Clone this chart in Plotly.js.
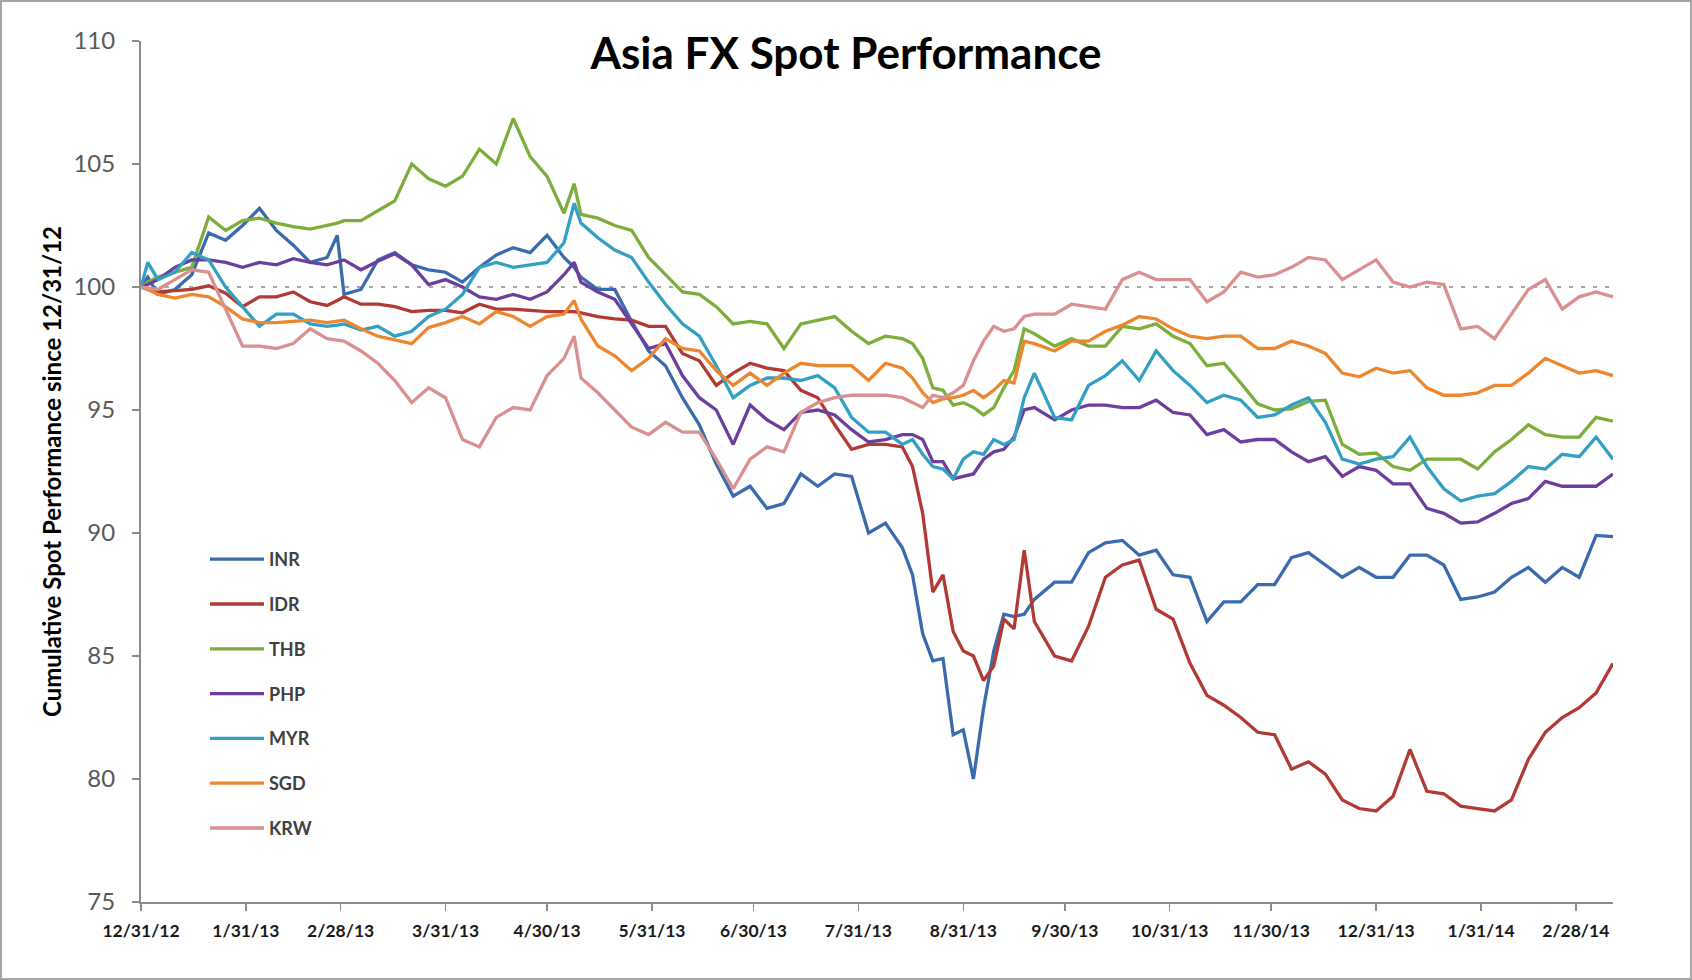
<!DOCTYPE html>
<html>
<head>
<meta charset="utf-8">
<script src="https://cdn.plot.ly/plotly-3.0.1.min.js"></script>
<style>
html,body{margin:0;padding:0;background:#fff;}
#wrap{position:relative;width:1692px;height:980px;overflow:hidden;}
#chart{position:absolute;left:0;top:0;width:1692px;height:980px;}
#frame{position:absolute;left:0;top:0;width:1692px;height:980px;box-sizing:border-box;border:2px solid #a6a6a6;pointer-events:none;}
</style>
</head>
<body>
<div id="wrap"><div id="chart"></div><div id="frame"></div></div>
<script>
// Observation dates (shared by all series)
const dates = ['2012-12-31','2013-01-02','2013-01-05','2013-01-10','2013-01-15','2013-01-20','2013-01-25','2013-01-30','2013-02-04','2013-02-09',
'2013-02-14','2013-02-19','2013-02-24','2013-02-27','2013-03-01','2013-03-06','2013-03-11','2013-03-16','2013-03-21','2013-03-26','2013-03-31',
'2013-04-05','2013-04-10','2013-04-15','2013-04-20','2013-04-25','2013-04-30','2013-05-05','2013-05-08','2013-05-10','2013-05-15','2013-05-20',
'2013-05-25','2013-05-30','2013-06-04','2013-06-09','2013-06-14','2013-06-19','2013-06-24','2013-06-29','2013-07-04','2013-07-09',
'2013-07-14','2013-07-19','2013-07-24','2013-07-29','2013-08-03','2013-08-08','2013-08-13','2013-08-16','2013-08-19','2013-08-22',
'2013-08-25','2013-08-28','2013-08-31','2013-09-03','2013-09-06','2013-09-09','2013-09-12','2013-09-15','2013-09-18','2013-09-21',
'2013-09-27','2013-10-02','2013-10-07','2013-10-12','2013-10-17','2013-10-22','2013-10-27','2013-11-01','2013-11-06','2013-11-11',
'2013-11-16','2013-11-21','2013-11-26','2013-12-01','2013-12-06','2013-12-11','2013-12-16','2013-12-21','2013-12-26','2013-12-31',
'2014-01-05','2014-01-10','2014-01-15','2014-01-20','2014-01-25','2014-01-30','2014-02-04','2014-02-09','2014-02-14','2014-02-19',
'2014-02-24','2014-03-01','2014-03-06','2014-03-11'];

const INR = [100, 100.4, 99.7, 99.9, 100.5, 102.2, 101.9, 102.5, 103.2, 102.3,
 101.7, 101.0, 101.2, 102.1, 99.7, 99.9, 101.1, 101.4, 100.9, 100.7, 100.6,
 100.2, 100.8, 101.3, 101.6, 101.4, 102.1, 101.2, 100.8, 100.4, 99.9, 99.9,
 98.6, 97.4, 96.8, 95.5, 94.4, 92.8, 91.5, 91.9, 91.0, 91.2,
 92.4, 91.9, 92.4, 92.3, 90.0, 90.4, 89.4, 88.3, 85.9, 84.8,
 84.9, 81.8, 82.0, 80.0, 82.9, 85.2, 86.7, 86.6, 86.7, 87.3,
 88.0, 88.0, 89.2, 89.6, 89.7, 89.1, 89.3, 88.3, 88.2, 86.4,
 87.2, 87.2, 87.9, 87.9, 89.0, 89.2, 88.7, 88.2, 88.6, 88.2,
 88.2, 89.1, 89.1, 88.7, 87.3, 87.4, 87.6, 88.2, 88.6, 88.0,
 88.6, 88.2, 89.9, 89.85];

const IDR = [100, 99.9, 99.8, 99.85, 99.9, 100.05, 99.75, 99.2, 99.6, 99.6,
 99.8, 99.4, 99.25, 99.45, 99.6, 99.3, 99.3, 99.2, 99.0, 99.05, 99.05,
 98.95, 99.3, 99.1, 99.1, 99.05, 99.0, 99.0, 99.0, 98.95, 98.8, 98.7,
 98.65, 98.4, 98.4, 97.3, 97.0, 96.0, 96.5, 96.9, 96.7, 96.6,
 95.8, 95.5, 94.4, 93.4, 93.6, 93.6, 93.5, 92.7, 90.8, 87.6,
 88.3, 86.0, 85.2, 85.0, 84.0, 84.6, 86.5, 86.1, 89.3, 86.4,
 85.0, 84.8, 86.2, 88.2, 88.7, 88.9, 86.9, 86.5, 84.7, 83.4,
 83.0, 82.5, 81.9, 81.8, 80.4, 80.7, 80.2, 79.15, 78.8, 78.7,
 79.3, 81.2, 79.5, 79.4, 78.9, 78.8, 78.7, 79.15, 80.8, 81.9,
 82.5, 82.9, 83.5, 84.7];

const THB = [100, 100.2, 100.4, 100.6, 100.8, 102.85, 102.3, 102.7, 102.8, 102.6,
 102.45, 102.35, 102.5, 102.6, 102.7, 102.7, 103.1, 103.5, 105.0, 104.4, 104.1,
 104.5, 105.6, 105.0, 106.85, 105.3, 104.5, 103.0, 104.2, 102.95, 102.8, 102.5,
 102.3, 101.2, 100.5, 99.8, 99.7, 99.2, 98.5, 98.6, 98.5, 97.5,
 98.5, 98.65, 98.8, 98.2, 97.7, 98.0, 97.9, 97.7, 97.1, 95.9,
 95.8, 95.2, 95.3, 95.1, 94.8, 95.1, 95.9, 96.6, 98.3, 98.1,
 97.6, 97.9, 97.6, 97.6, 98.4, 98.3, 98.5, 98.0, 97.7, 96.8,
 96.9, 96.1, 95.25, 95.0, 95.05, 95.35, 95.4, 93.6, 93.2, 93.25,
 92.7, 92.55, 93.0, 93.0, 93.0, 92.6, 93.3, 93.8, 94.4, 94.0,
 93.9, 93.9, 94.7, 94.55];

const PHP = [100, 100.1, 100.3, 100.8, 101.1, 101.1, 101.0, 100.8, 101.0, 100.9,
 101.15, 101.0, 100.9, 101.0, 101.1, 100.7, 101.05, 101.35, 100.9, 100.1, 100.3,
 100.0, 99.6, 99.5, 99.7, 99.5, 99.8, 100.5, 101.0, 100.2, 99.8, 99.5,
 98.5, 97.5, 97.7, 96.4, 95.5, 95.0, 93.6, 95.2, 94.6, 94.2,
 94.9, 95.0, 94.8, 94.2, 93.7, 93.8, 94.0, 94.0, 93.8, 92.9,
 92.9, 92.2, 92.3, 92.4, 93.0, 93.3, 93.4, 93.9, 95.0, 95.1,
 94.6, 95.0, 95.2, 95.2, 95.1, 95.1, 95.4, 94.9, 94.8, 94.0,
 94.2, 93.7, 93.8, 93.8, 93.3, 92.9, 93.1, 92.3, 92.7, 92.55,
 92.0, 92.0, 91.0, 90.8, 90.4, 90.45, 90.8, 91.2, 91.4, 92.1,
 91.9, 91.9, 91.9, 92.4];

const MYR = [100, 101.0, 100.3, 100.6, 101.4, 101.1, 100.0, 99.2, 98.4, 98.9,
 98.9, 98.5, 98.4, 98.45, 98.5, 98.25, 98.4, 98.0, 98.2, 98.8, 99.1,
 99.7, 100.8, 101.0, 100.8, 100.9, 101.0, 101.8, 103.4, 102.6, 102.0, 101.5,
 101.2, 100.2, 99.3, 98.5, 98.0, 96.8, 95.5, 96.0, 96.3, 96.3,
 96.2, 96.4, 95.9, 94.7, 94.1, 94.1, 93.6, 93.8, 93.2, 92.7,
 92.6, 92.2, 93.0, 93.3, 93.2, 93.8, 93.6, 93.8, 95.5, 96.5,
 94.7, 94.6, 96.0, 96.4, 97.0, 96.2, 97.4, 96.6, 96.0, 95.3,
 95.6, 95.4, 94.7, 94.8, 95.2, 95.5, 94.5, 93.0, 92.8, 93.0,
 93.1, 93.9, 92.7, 91.8, 91.3, 91.5, 91.6, 92.1, 92.7, 92.6,
 93.2, 93.1, 93.9, 93.0];

const SGD = [100, 99.9, 99.7, 99.55, 99.7, 99.6, 99.2, 98.7, 98.55, 98.55,
 98.6, 98.65, 98.55, 98.6, 98.65, 98.3, 98.0, 97.85, 97.7, 98.35, 98.55,
 98.8, 98.5, 99.0, 98.8, 98.4, 98.8, 98.9, 99.45, 98.7, 97.6, 97.2,
 96.6, 97.1, 97.9, 97.5, 97.4, 96.6, 96.0, 96.5, 96.0, 96.5,
 96.9, 96.8, 96.8, 96.8, 96.2, 96.9, 96.7, 96.3, 95.7, 95.3,
 95.45, 95.5, 95.6, 95.8, 95.5, 95.8, 96.2, 96.1, 97.8, 97.7,
 97.4, 97.8, 97.8, 98.2, 98.45, 98.8, 98.7, 98.3, 98.0, 97.9,
 98.0, 98.0, 97.5, 97.5, 97.8, 97.6, 97.3, 96.5, 96.35, 96.7,
 96.5, 96.6, 95.9, 95.6, 95.6, 95.7, 96.0, 96.0, 96.5, 97.1,
 96.8, 96.5, 96.6, 96.4];

const KRW = [100, 99.95, 99.9, 100.3, 100.7, 100.6, 99.1, 97.6, 97.6, 97.5,
 97.7, 98.3, 97.9, 97.85, 97.8, 97.4, 96.9, 96.2, 95.3, 95.9, 95.5,
 93.8, 93.5, 94.7, 95.1, 95.0, 96.4, 97.1, 98.0, 96.3, 95.7, 95.0,
 94.3, 94.0, 94.5, 94.1, 94.1, 93.0, 91.8, 93.0, 93.5, 93.3,
 94.9, 95.3, 95.5, 95.6, 95.6, 95.6, 95.5, 95.3, 95.1, 95.6,
 95.5, 95.7, 96.0, 97.0, 97.8, 98.4, 98.2, 98.3, 98.8, 98.9,
 98.9, 99.3, 99.2, 99.1, 100.3, 100.6, 100.3, 100.3, 100.3, 99.4,
 99.8, 100.6, 100.4, 100.5, 100.8, 101.2, 101.1, 100.3, 100.7, 101.1,
 100.2, 100.0, 100.2, 100.1, 98.3, 98.4, 97.9, 98.9, 99.9, 100.3,
 99.1, 99.6, 99.8, 99.6];

const seriesNames = ['INR','IDR','THB','PHP','MYR','SGD','KRW'];
const seriesColors = ['#3a6bae','#b13a35','#7dae3c','#6c3f9c','#33a0c3','#ec8730','#d9908f'];
const seriesValues = [INR, IDR, THB, PHP, MYR, SGD, KRW];

// Axis ticks
const tickDates = ['2012-12-31','2013-01-31','2013-02-28','2013-03-31','2013-04-30','2013-05-31','2013-06-30',
 '2013-07-31','2013-08-31','2013-09-30','2013-10-31','2013-11-30','2013-12-31','2014-01-31','2014-02-28'];
const tickLabels = ['12/31/12','1/31/13','2/28/13','3/31/13','4/30/13','5/31/13','6/30/13',
 '7/31/13','8/31/13','9/30/13','10/31/13','11/30/13','12/31/13','1/31/14','2/28/14'];
const yTicks = [75, 80, 85, 90, 95, 100, 105, 110];
const baseline = 100;

const traces = seriesNames.map((n, i) => ({
  type: 'scatter', mode: 'lines', name: n, legendgroup: n,
  x: dates, y: seriesValues[i],
  line: {color: seriesColors[i], width: 3.3},
  hoverinfo: 'skip'
}));

const axisGray = '#8c8c8c';
const layout = {
  width: 1692, height: 980,
  margin: {l: 141, r: 79, t: 41, b: 78, pad: 0},
  paper_bgcolor: '#ffffff', plot_bgcolor: '#ffffff',
  font: {family: 'Lato, sans-serif', color: '#404040'},
  showlegend: true,
  hovermode: false,
  title: {
    text: '<b>Asia FX Spot Performance</b>',
    font: {family: 'Lato, sans-serif', size: 44, color: '#000000'},
    xref: 'container', x: 0.5, xanchor: 'center',
    yref: 'container', y: 1 - 54/980, yanchor: 'middle'
  },
  xaxis: {
    type: 'date', range: ['2012-12-31', '2014-03-11'],
    tickmode: 'array', tickvals: tickDates, ticktext: tickLabels,
    ticks: 'outside', ticklen: 7, tickwidth: 1.5, tickcolor: axisGray,
    showline: true, linecolor: axisGray, linewidth: 2,
    showgrid: false, zeroline: false,
    tickfont: {family: 'Lato, sans-serif', size: 17.5, color: '#1a1a1a', weight: 'bold'},
    ticklabelstandoff: 5, fixedrange: true
  },
  yaxis: {
    range: [75, 110], tickmode: 'array', tickvals: yTicks,
    ticks: 'outside', ticklen: 7, tickwidth: 1.5, tickcolor: axisGray,
    showline: true, linecolor: axisGray, linewidth: 2,
    showgrid: false, zeroline: false,
    tickfont: {family: 'Lato, sans-serif', size: 24, color: '#595959'},
    ticklabelstandoff: 12, fixedrange: true,
    title: {
      text: 'Cumulative Spot Performance since 12/31/12',
      font: {family: 'Lato, sans-serif', size: 24, color: '#000000', weight: 'bold'},
      standoff: 5
    }
  },
  legend: {
    x: (210 - 5 - 141) / 1472, xanchor: 'left',
    y: 1 - (541 - 41) / 861, yanchor: 'top',
    font: {family: 'Lato, sans-serif', size: 18, color: '#404040', weight: 'bold'},
    itemwidth: 54,
    tracegroupgap: 18.4, bgcolor: 'rgba(0,0,0,0)', borderwidth: 0
  },
  shapes: [{
    type: 'line', xref: 'paper', x0: 0, x1: 1, yref: 'y', y0: baseline, y1: baseline,
    line: {color: '#a6a6a6', width: 2, dash: '4px,8px'}, layer: 'below'
  }]
};

Plotly.newPlot('chart', traces, layout, {displayModeBar: false, staticPlot: true});
</script>
</body>
</html>
